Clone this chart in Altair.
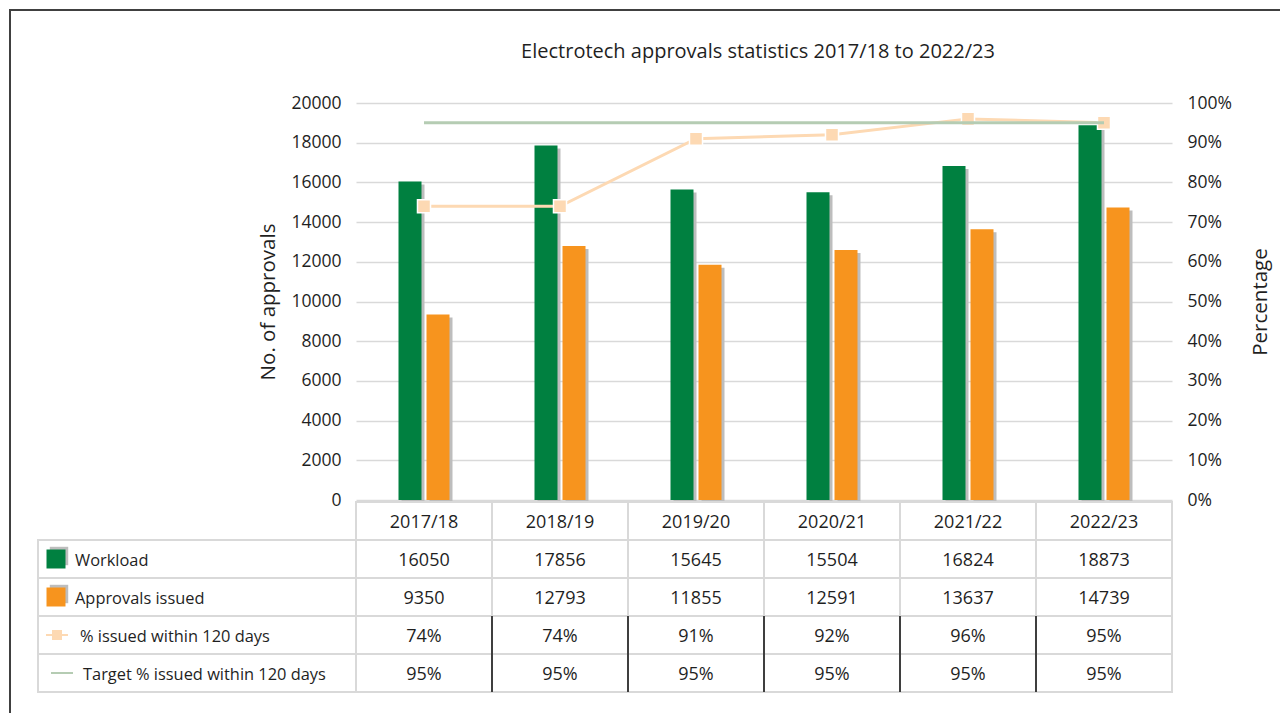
import altair as alt
import pandas as pd

# ---- data -------------------------------------------------------------
categories = ["2017/18", "2018/19", "2019/20", "2020/21", "2021/22", "2022/23"]
workload = [16050, 17856, 15645, 15504, 16824, 18873]
approvals_issued = [9350, 12793, 11855, 12591, 13637, 14739]
pct_within_120 = [74, 74, 91, 92, 96, 95]
target_pct = [95, 95, 95, 95, 95, 95]

row_labels = [
    "Workload",
    "Approvals issued",
    "% issued within 120 days",
    "Target % issued within 120 days",
]
count_ticks = [0, 2000, 4000, 6000, 8000, 10000, 12000, 14000, 16000, 18000, 20000]
pct_ticks = [0, 10, 20, 30, 40, 50, 60, 70, 80, 90, 100]
chart_title = "Electrotech approvals statistics 2017/18 to 2022/23"

# ---- styling ----------------------------------------------------------
FONT = "Open Sans"
TEXT = "#1f1f1f"
GREEN = "#008040"
ORANGE = "#F7941E"
SHADOW = "#BDBDBD"
PEACH = "#FDD9B3"
TARGET = "#B5CCB3"
GRID = "#D9D9D9"

PLOT_W = 816          # six table columns
CHART_H = 397         # bar/line region
TABLE_TOP = 399
TABLE_BOTTOM = 589
BAR_W = 23

bars_df = pd.DataFrame({"category": categories, "workload": workload,
                        "approvals": approvals_issued})
pct_df = pd.DataFrame({"category": categories, "pct": pct_within_120,
                       "target": target_pct})

row_keys = ["header"] + row_labels
table_rows = []
for i, cat in enumerate(categories):
    table_rows.append({"category": cat, "row": "header", "text": cat})
    table_rows.append({"category": cat, "row": row_labels[0], "text": str(workload[i])})
    table_rows.append({"category": cat, "row": row_labels[1], "text": str(approvals_issued[i])})
    table_rows.append({"category": cat, "row": row_labels[2], "text": f"{pct_within_120[i]}%"})
    table_rows.append({"category": cat, "row": row_labels[3], "text": f"{target_pct[i]}%"})
table_df = pd.DataFrame(table_rows)
sep_df = table_df[(table_df["row"].isin(row_labels[2:])) & (table_df["category"] != categories[0])]
label_df = pd.DataFrame({"row": row_labels})
title_df = pd.DataFrame({"title": [chart_title]})

# ---- scales / axes ----------------------------------------------------
x_enc = alt.X("category:N", sort=categories, axis=None,
              scale=alt.Scale(domain=categories, paddingInner=0, paddingOuter=0))


def count_y(field, axis=None):
    return alt.Y(f"{field}:Q", axis=axis,
                 scale=alt.Scale(domain=[0, 20000], range=[CHART_H, 0], nice=False))


def pct_y(field, axis=None):
    return alt.Y(f"{field}:Q", axis=axis,
                 scale=alt.Scale(domain=[0, 100], range=[CHART_H, 0], nice=False))


def row_y():
    return alt.Y("row:N", axis=None,
                 scale=alt.Scale(type="band", domain=row_keys,
                                 range=[TABLE_TOP, TABLE_BOTTOM],
                                 paddingInner=0, paddingOuter=0))


count_axis = alt.Axis(orient="left", values=count_ticks, format="d", grid=True,
                      gridColor=GRID, gridWidth=1.5, domain=False, ticks=False,
                      labelPadding=15, labelFontSize=17.5, labelFont=FONT,
                      labelColor=TEXT, title="No. of approvals", titleFont=FONT,
                      titleFontSize=20.5, titleFontWeight="normal", titleColor=TEXT,
                      titlePadding=12)
pct_axis = alt.Axis(orient="right", values=pct_ticks, grid=False, domain=False,
                    ticks=False, labelPadding=15, labelFontSize=17.5,
                    labelFont=FONT, labelColor=TEXT,
                    labelExpr="datum.value + '%'", title="Percentage",
                    titleFont=FONT, titleFontSize=20.5, titleFontWeight="normal",
                    titleColor=TEXT, titleAngle=270, titlePadding=39)

# ---- bars -------------------------------------------------------------
layers = []
layers.append(alt.Chart(bars_df).mark_bar(
    width=BAR_W, xOffset=-11, yOffset=3, color=SHADOW
).encode(x=x_enc, y=count_y("workload", count_axis)))
layers.append(alt.Chart(bars_df).mark_bar(
    width=BAR_W, xOffset=17, yOffset=3, color=SHADOW
).encode(x=x_enc, y=count_y("approvals")))
layers.append(alt.Chart(bars_df).mark_bar(
    width=BAR_W, xOffset=-14, color=GREEN
).encode(x=x_enc, y=count_y("workload")))
layers.append(alt.Chart(bars_df).mark_bar(
    width=BAR_W, xOffset=14, color=ORANGE
).encode(x=x_enc, y=count_y("approvals")))

# ---- percentage series ------------------------------------------------
layers.append(alt.Chart(pct_df).mark_line(color=PEACH, strokeWidth=3).encode(
    x=x_enc, y=pct_y("pct", pct_axis)))
layers.append(alt.Chart(pct_df).mark_point(
    shape="square", filled=True, size=170, color=PEACH, opacity=1,
    stroke="white", strokeWidth=1.5
).encode(x=x_enc, y=pct_y("pct")))
layers.append(alt.Chart(pct_df).mark_line(color=TARGET, strokeWidth=3).encode(
    x=x_enc, y=pct_y("target")))

# ---- data table -------------------------------------------------------
layers.append(alt.Chart(table_df).mark_rect(
    fill="white", stroke=GRID, strokeWidth=2
).encode(x=x_enc, y=row_y()))
layers.append(alt.Chart(sep_df).mark_rect(
    width=2, xOffset=-PLOT_W / 12, color="#3f3f3f"
).encode(x=x_enc, y=row_y()))
layers.append(alt.Chart(table_df).mark_text(
    font=FONT, fontSize=18, color=TEXT, align="center", baseline="middle", dy=2
).encode(x=x_enc, y=row_y(), text="text:N"))

layers.append(alt.Chart(label_df).mark_rect(
    fill="white", stroke=GRID, strokeWidth=2
).encode(x=alt.value(-318), x2=alt.value(0), y=row_y()))


def one_row(i):
    return label_df[label_df["row"] == row_labels[i]]


# legend keys in the label column
for i, color in ((0, GREEN), (1, ORANGE)):
    layers.append(alt.Chart(one_row(i)).mark_square(
        size=340, color=SHADOW, opacity=1, xOffset=3, yOffset=-3
    ).encode(x=alt.value(-300), y=row_y()))
    layers.append(alt.Chart(one_row(i)).mark_square(
        size=361, color=color, opacity=1
    ).encode(x=alt.value(-300), y=row_y()))
layers.append(alt.Chart(one_row(2)).mark_rule(color=PEACH, strokeWidth=2).encode(
    x=alt.value(-310), x2=alt.value(-288), y=row_y()))
layers.append(alt.Chart(one_row(2)).mark_square(
    size=100, color=PEACH, opacity=1).encode(x=alt.value(-299), y=row_y()))
layers.append(alt.Chart(one_row(3)).mark_rule(color=TARGET, strokeWidth=2).encode(
    x=alt.value(-305), x2=alt.value(-283), y=row_y()))

for i, xpos in ((0, -281), (1, -281), (2, -276), (3, -273)):
    layers.append(alt.Chart(one_row(i)).mark_text(
        font=FONT, fontSize=16.4, color=TEXT, align="left", baseline="middle", dy=2
    ).encode(x=alt.value(xpos), y=row_y(), text="row:N"))

# ---- chart title and outer frame --------------------------------------
layers.append(alt.Chart(title_df).mark_text(
    font=FONT, fontSize=20, color=TEXT, align="center", baseline="alphabetic"
).encode(x=alt.value(PLOT_W / 2 - 6), y=alt.value(-45), text="title:N"))

frame_df = pd.DataFrame({"edge": ["frame"]})
layers.append(alt.Chart(frame_df).mark_rule(color="#404040", strokeWidth=2).encode(
    x=alt.value(-347), x2=alt.value(960), y=alt.value(-93)))
layers.append(alt.Chart(frame_df).mark_rule(color="#404040", strokeWidth=2).encode(
    x=alt.value(-346), y=alt.value(-94), y2=alt.value(640)))

chart = alt.layer(*layers).resolve_scale(y="independent").properties(
    width=PLOT_W,
    height=TABLE_BOTTOM,
    autosize=alt.AutoSizeParams(type="none"),
    padding={"left": 356, "top": 103, "right": 108, "bottom": 21},
).configure(background="white").configure_view(stroke=None)

chart.save("out.html", embed_options={"renderer": "svg", "actions": False})
